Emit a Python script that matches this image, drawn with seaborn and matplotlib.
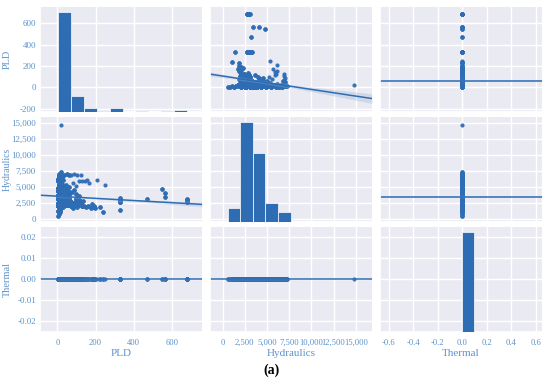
import matplotlib
matplotlib.use("Agg")

import matplotlib.pyplot as plt
import numpy as np
import pandas as pd
import seaborn as sns
from matplotlib.ticker import FuncFormatter, MultipleLocator


# distinct (PLD, Hydraulics) points, with how many
# times each one repeats (the dense cluster is heavily overplotted)
pld_values = [
    # PLD 0-68, low Hydraulics
    3, 8, 12, 5, 14, 19, 10, 30,
    # PLD 0-68, Hydraulics 2,000-3,400
    3, 9, 15, 20, 7, 13, 19, 5, 11, 27, 34, 41, 49, 31, 39, 55, 45, 60, 66, 24, 51, 59, 37, 17, 2,
    # PLD 0-68, Hydraulics 3,400-4,800
    3, 9, 15, 6, 12, 19, 4, 10, 17, 25, 33, 41, 29, 47, 37, 54, 62, 23, 44, 57, 2, 31,
    # PLD 0-68, Hydraulics 4,800-6,200
    3, 9, 15, 6, 12, 19, 4, 27, 35, 44, 51, 59, 24, 31,
    # PLD 0-68, Hydraulics 6,200-7,400
    5, 11, 7, 15, 9, 17, 34, 49, 61, 24,
    # outlier at the top
    21,
    # PLD 68-136
    72, 82, 92, 102, 112, 122, 77, 87, 97, 107, 117, 127, 75, 85, 99, 115, 132,
    79, 105, 71, 87, 105, 122, 95, 82, 127, 112, 73, 89,
    # PLD 136-204
    140, 150, 162, 175, 185, 196, 145, 155, 168, 180, 191,
    # PLD 204-271
    209, 225, 241, 250,
    # PLD ~330 strip
    329, 329, 329, 329, 329, 329,
    # far right
    471, 547, 567, 567, 682, 682, 682, 682, 682,
]

hydraulics_values = [
    570, 820, 1050, 1300, 1500, 1700, 1850, 1900,
    2050, 2200, 2350, 2500, 2650, 2800, 2950, 3100, 3250, 2100, 2300, 2450, 2600, 2750, 2900,
    3050, 3200, 2400, 2850, 3350, 2250, 3300, 2150, 3000, 2500,
    3450, 3600, 3750, 3900, 4050, 4200, 4350, 4500, 4650, 3500, 3700, 3850, 4000, 4150, 4300,
    3550, 3950, 4450, 4600, 4400, 3800, 4700,
    4850, 5000, 5200, 5400, 5600, 5800, 6000, 4900, 5100, 5300, 4800, 5000, 5500, 6100,
    6300, 6500, 6700, 6900, 7100, 7300, 6950, 7000, 6850, 6600,
    14750,
    2000, 2300, 2500, 2700, 3000, 2400, 2600, 2200, 3100, 2150, 2800, 2050, 4300, 4600, 4000,
    3600, 2900, 1800, 1950, 6900, 7000, 6950, 6900, 5200, 5600, 6000, 5900, 2650, 2250,
    2000, 1850, 2100, 1750, 1950, 1800, 5900, 6100, 5700, 2300, 2050,
    6100, 1900, 1050, 5300,
    1440, 2700, 2850, 3000, 3200, 3350,
    3200, 4790, 4120, 3400, 2700, 2800, 2900, 3000, 3100,
]

point_counts = [
    3, 3, 3, 6, 6, 6, 6, 3,
    12, 15, 15, 15, 18, 18, 18, 18, 18, 12, 12, 9, 9, 12, 12, 9, 9, 9, 9, 12, 9, 9, 9, 12, 9,
    20, 20, 20, 20, 16, 16, 16, 16, 12, 16, 12, 12, 12, 12, 12, 12, 8, 12, 8, 8, 12, 8,
    9, 9, 9, 9, 9, 6, 6, 6, 6, 3, 3, 3, 3, 3,
    6, 6, 6, 6, 3, 3, 3, 3, 3, 3,
    1,
    9, 9, 9, 6, 6, 6, 9, 6, 6, 6, 6, 6, 3, 3, 3, 3, 3,
    3, 3, 1, 1, 1, 1, 1, 1, 1, 1, 6, 3,
    3, 3, 3, 3, 3, 3, 1, 1, 1, 3, 3,
    1, 3, 3, 1,
    3, 6, 6, 6, 6, 3,
    3, 3, 3, 3, 3, 3, 3, 3, 3,
]

thermal_value = 0.0

# axis ranges of the three columns / rows as they appear in the figure
col_limits = [(-91, 759), (-1411, 16811), (-0.67, 0.65)]
row_limits = [(-228, 752), (-420, 15960), (-0.025, 0.0245)]

BLUE = "#2e6db4"
TEXT_BLUE = "#5b93cc"


def thousands(v, pos):
    return f"{v:,.0f}"


def two_dec(v, pos):
    if abs(v) < 1e-9:
        v = 0.0
    return f"{v:.2f}"


def one_dec(v, pos):
    if abs(v) < 1e-9:
        v = 0.0
    return f"{v:.1f}"


def main():
    df = pd.DataFrame({
        "PLD": np.repeat(pld_values, point_counts),
        "Hydraulics": np.repeat(hydraulics_values, point_counts),
    })
    df["Thermal"] = thermal_value

    sns.set_theme(style="darkgrid")
    plt.rcParams["font.family"] = ["Liberation Serif", "DejaVu Serif"]
    plt.rcParams["axes.unicode_minus"] = False

    g = sns.PairGrid(df, height=3.82 / 3, aspect=5.5 / 3.82, diag_sharey=False)
    g.map_diag(sns.histplot, bins=10, color=BLUE, alpha=1, edgecolor="white", linewidth=0.5)

    for j, lim in enumerate(col_limits):
        g.axes[0, j].set_xlim(lim)

    g.map_offdiag(
        sns.regplot,
        color=BLUE,
        truncate=False,
        seed=0,
        scatter_kws={"s": 9, "alpha": 0.95, "linewidths": 0},
        line_kws={"lw": 1.1},
    )

    for i, lim in enumerate(row_limits):
        g.axes[i, 0].set_ylim(lim)

    g.figure.set_size_inches(5.5, 3.82)
    g.figure.subplots_adjust(left=0.073, right=0.985, top=0.982, bottom=0.131,
                             wspace=0.05, hspace=0.048)

    axes = g.axes
    axes[0, 0].yaxis.set_major_locator(MultipleLocator(200))
    axes[1, 0].yaxis.set_major_locator(MultipleLocator(2500))
    axes[1, 0].yaxis.set_major_formatter(FuncFormatter(thousands))
    axes[2, 0].yaxis.set_major_locator(MultipleLocator(0.01))
    axes[2, 0].yaxis.set_major_formatter(FuncFormatter(two_dec))

    axes[2, 0].xaxis.set_major_locator(MultipleLocator(200))
    axes[2, 1].xaxis.set_major_locator(MultipleLocator(2500))
    axes[2, 1].xaxis.set_major_formatter(FuncFormatter(thousands))
    axes[2, 2].xaxis.set_major_locator(MultipleLocator(0.2))
    axes[2, 2].xaxis.set_major_formatter(FuncFormatter(one_dec))

    for ax in axes.flat:
        ax.tick_params(axis="x", labelsize=6.2, labelcolor=TEXT_BLUE, size=0, pad=5)
        ax.tick_params(axis="y", labelsize=6.5, labelcolor=TEXT_BLUE, size=0, pad=3)
        ax.xaxis.label.set_color(TEXT_BLUE)
        ax.yaxis.label.set_color(TEXT_BLUE)
        ax.xaxis.label.set_size(8)
        ax.yaxis.label.set_size(7.5)
    axes[1, 0].yaxis.label.set_size(7)

    for i in range(3):
        axes[i, 0].yaxis.set_label_coords(-0.175, 0.5)
    for j in range(3):
        axes[2, j].xaxis.set_label_coords(0.5, -0.165)

    g.figure.text(0.494, 0.031, "(a)", ha="center", va="center",
                  fontsize=10, fontweight="bold", color="black")

    g.figure.savefig("out.png", dpi=100)
    plt.close(g.figure)


if __name__ == "__main__":
    main()
